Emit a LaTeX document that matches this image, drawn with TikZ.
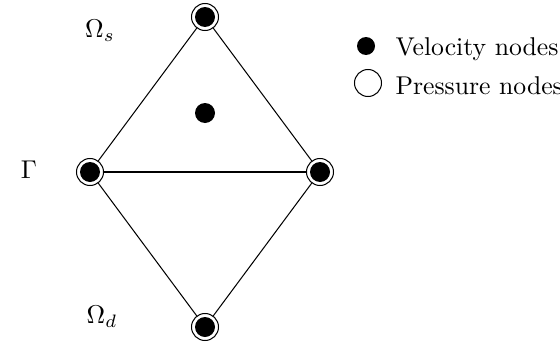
\documentclass[tikz,border=0pt]{standalone}
\begin{document}
\begin{tikzpicture}[x=0.3889pt,y=-0.3889pt,
  vel/.style={fill=black,draw=none},
  pres/.style={draw=black,fill=white,line width=0.4pt},
  edge/.style={draw=black,line width=0.4pt}]
\useasboundingbox (0,0) rectangle (560,341);
% mesh vertices
\coordinate (T) at (205,17);
\coordinate (L) at (90,172);
\coordinate (R) at (320,172);
\coordinate (B) at (205,327);
\coordinate (C) at (205,113);
% element edges
\draw[edge] (T) -- (L) -- (B) -- (R) -- cycle;
\draw[edge] (L) -- (R);
% nodes: pressure ring with velocity dot
\foreach \p in {T,L,R,B}{
  \filldraw[pres] (\p) circle[radius=13.5];
  \fill[vel] (\p) circle[radius=10];
}
\fill[vel] (C) circle[radius=10];
% region labels
\node (os) at (100,31) {$\Omega_s$};
\node (gm) at (29,170) {$\Gamma$};
\node (od) at (102,317) {$\Omega_d$};
% legend
\fill[vel] (366,46) circle[radius=9];
\draw[pres] (368,83) circle[radius=13.5];
\node[anchor=base west,inner sep=0pt] (lv) at (395,55.5) {Velocity nodes};
\node[anchor=base west,inner sep=0pt] (lp) at (395,94.5) {Pressure nodes};
\end{tikzpicture}
\end{document}
